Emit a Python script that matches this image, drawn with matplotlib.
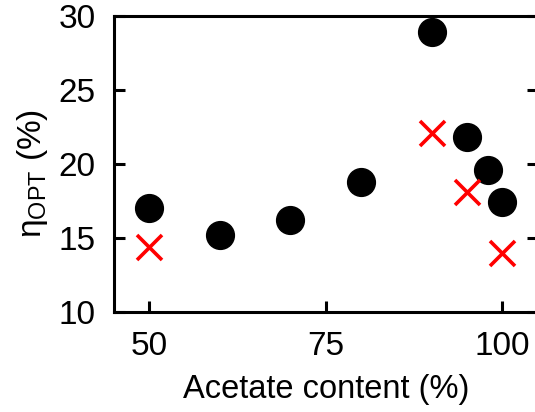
import matplotlib
matplotlib.use("Agg")
import matplotlib.pyplot as plt

# Data.
acetate_circles = [50, 60, 70, 80, 90, 95, 98, 100]
eta_circles     = [17.0, 15.2, 16.2, 18.8, 28.9, 21.8, 19.6, 17.4]
acetate_crosses = [50, 90, 95, 100]
eta_crosses     = [14.4, 22.1, 18.1, 14.0]

x_ticks = [50, 75, 100]
y_ticks = [10, 15, 20, 25, 30]

plt.rcParams['font.family'] = ['Liberation Sans', 'DejaVu Sans']
plt.rcParams['mathtext.fontset'] = 'custom'
plt.rcParams['mathtext.rm'] = 'Liberation Sans'
plt.rcParams['mathtext.it'] = 'Liberation Sans'

fig = plt.figure(figsize=(5.35, 4.12), dpi=100)
ax = fig.add_axes([0.2123, 0.2427, 0.793, 0.719])

ax.plot(acetate_circles, eta_circles, 'o', color='black', markersize=20, linestyle='none', clip_on=False)
ax.plot(acetate_crosses, eta_crosses, 'x', color='red', markersize=18, markeredgewidth=2.6, linestyle='none', clip_on=False)

ax.set_xlim(45, 105)
ax.set_ylim(10, 30)
ax.set_xticks(x_ticks)
ax.set_yticks(y_ticks)

for spine in ax.spines.values():
  spine.set_linewidth(2.2)

ax.tick_params(axis='both', direction='in', length=8, width=2.2, labelsize=24)
ax.tick_params(axis='x', pad=14)
ax.tick_params(axis='y', pad=13, right=True)

ax.set_xlabel("Acetate content (%)", fontsize=23.5, labelpad=8)
ax.set_ylabel(r"η$_{\rm OPT}$ (%)", fontsize=24, labelpad=6)
ax.yaxis.label.set_y(0.466)

fig.savefig("out.png", dpi=100)
